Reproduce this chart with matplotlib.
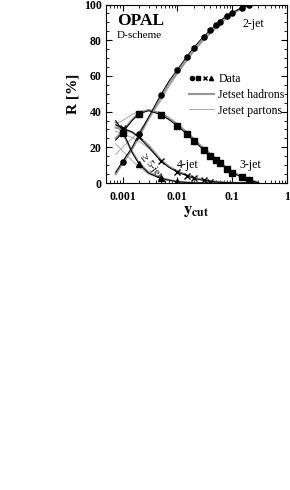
import matplotlib
matplotlib.use("Agg")
import matplotlib.pyplot as plt
from matplotlib.lines import Line2D
from matplotlib.legend_handler import HandlerTuple
from matplotlib.ticker import LogLocator, MultipleLocator, NullFormatter

plt.rcParams['font.family'] = ['Liberation Serif', 'DejaVu Serif']
plt.rcParams['mathtext.fontset'] = 'stix'

# data points (OPAL, D-scheme)
y2 = [0.001, 0.002, 0.005, 0.01, 0.015, 0.02, 0.03, 0.04, 0.05, 0.06, 0.08, 0.1, 0.15, 0.2]
r2 = [11.9, 27.4, 49.5, 63.3, 70.8, 75.8, 82.0, 85.7, 88.5, 90.4, 93.6, 95.4, 98.0, 100.0]
y3 = [0.001, 0.002, 0.005, 0.01, 0.015, 0.02, 0.03, 0.04, 0.05, 0.06, 0.08, 0.1, 0.15, 0.2]
r3 = [28.2, 38.8, 38.3, 32.0, 27.3, 23.7, 18.5, 15.3, 12.9, 11.0, 7.7, 5.8, 3.2, 1.5]
y4 = [0.001, 0.002, 0.005, 0.01, 0.015, 0.02, 0.03, 0.04]
r4 = [31.0, 25.6, 12.3, 6.1, 4.1, 2.6, 1.5, 0.8]
y5 = [0.001, 0.002, 0.005, 0.01]
r5 = [29.5, 10.6, 2.6, 0.7]

# curves
cx = [0.00075, 0.001, 0.0015, 0.002, 0.003, 0.005, 0.007, 0.01, 0.015, 0.02,
      0.03, 0.05, 0.07, 0.1, 0.15, 0.2, 0.3]
fit2 = [6, 12, 20, 27.4, 37, 49.5, 57, 63.5, 71, 76, 82, 88.5, 92.5, 95.5, 98.3, 99.6, 100]
fit3 = [24, 28.2, 35, 38.8, 40.5, 38.3, 35.5, 32, 27.3, 23.7, 18.5, 12.9, 9.3, 5.8, 3.2, 1.5, 0.3]
fit4 = [32.5, 31, 28.5, 25.6, 20, 12.3, 8.8, 6.1, 4.1, 2.6, 1.5, 0.6, 0.3, 0.1, 0, 0, 0]
fit5 = [35, 29.5, 17, 10.6, 5.5, 2.6, 1.6, 0.7, 0.3, 0.1, 0, 0, 0, 0, 0, 0, 0]

had2 = [5, 11, 19, 26, 36, 48, 55.5, 62, 69.5, 74.5, 80.5, 87, 91.5, 94.8, 98, 99.5, 100]
had3 = [25, 29, 35.5, 39.2, 41, 39, 36.2, 32.8, 28.2, 24.5, 19.3, 13.6, 9.8, 6.3, 3.5, 1.7, 0.4]
had4 = [31, 30, 28.5, 26, 21, 13, 9.3, 6.6, 4.5, 3, 1.7, 0.7, 0.35, 0.15, 0, 0, 0]
had5 = [34, 28, 17.5, 11.2, 6, 2.9, 1.7, 0.8, 0.35, 0.15, 0, 0, 0, 0, 0, 0, 0]

par2 = [16, 20, 25, 29, 36, 46, 54, 61, 68.5, 73.5, 80, 86.5, 91, 94.5, 97.8, 99.4, 100]
par3 = [33, 35, 38.5, 40, 41, 39.5, 36.8, 33.3, 28.7, 25, 19.8, 14, 10.2, 6.6, 3.7, 1.9, 0.5]
par4 = [29, 27.5, 25.5, 23.5, 19.5, 12.5, 9, 6.5, 4.5, 3, 1.7, 0.7, 0.35, 0.15, 0, 0, 0]
par5 = [22, 18, 12.5, 9, 5, 2.5, 1.5, 0.7, 0.3, 0.1, 0, 0, 0, 0, 0, 0, 0]

fig = plt.figure(figsize=(2.9, 4.9), dpi=100)
ax = fig.add_axes([0.3655, 0.6265, 0.6242, 0.3643])

for p in [par2, par3, par4, par5]:
    ax.plot(cx, p, color='#a8a8a8', lw=0.7, zorder=2)
for h in [had2, had3, had4, had5]:
    ax.plot(cx, h, color='#959595', lw=1.5, zorder=2)
for f in [fit2, fit3, fit4, fit5]:
    ax.plot(cx, f, color='black', lw=0.7, zorder=3)

ax.plot(y2, r2, 'o', color='black', ms=3.7, zorder=4)
ax.plot(y3, r3, 's', color='black', ms=3.7, zorder=4)
ax.plot(y4, r4, 'x', color='black', ms=3.7, mew=1.0, zorder=4)
ax.plot(y5, r5, '^', color='black', ms=3.7, zorder=4)

ax.set_xscale('log')
ax.set_xlim(0.0005, 1)
ax.set_ylim(0, 100)
ax.xaxis.set_minor_locator(LogLocator(base=10, subs=range(2, 10), numticks=20))
ax.xaxis.set_minor_formatter(NullFormatter())
ax.set_xticks([0.001, 0.01, 0.1, 1])
ax.set_xticklabels(['0.001', '0.01', '0.1', '1'])
ax.yaxis.set_major_locator(MultipleLocator(20))
ax.yaxis.set_minor_locator(MultipleLocator(5))
ax.tick_params(which='both', direction='in', top=True, right=True)
ax.tick_params(which='major', length=4, width=0.8)
ax.tick_params(which='minor', length=2, width=0.6)
ax.tick_params(axis='x', pad=6)
ax.tick_params(axis='y', pad=3)
for lab in ax.get_xticklabels() + ax.get_yticklabels():
    lab.set_fontweight('bold')
    lab.set_fontsize(8.5)
for s in ax.spines.values():
    s.set_linewidth(0.8)

ax.set_ylabel('R [%]', fontsize=11, fontweight='bold', labelpad=3)
ax.set_xlabel(r'$\mathbf{y}_{\mathbf{cut}}$', fontsize=12, labelpad=0)

ax.text(0.06, 0.95, 'OPAL', transform=ax.transAxes, fontsize=12.5,
        fontweight='bold', va='top')
ax.text(0.06, 0.85, 'D-scheme', transform=ax.transAxes, fontsize=8, va='top')
ax.text(0.155, 89, '2-jet', fontsize=8.5, va='center')
ax.text(0.0098, 10, '4-jet', fontsize=8.5, va='center')
ax.text(0.137, 10, '3-jet', fontsize=8.5, va='center')
ax.text(0.0033, 10, r'$\geq$5-jet', fontsize=7.5, rotation=-52, ha='center', va='center')

handles = [
    (Line2D([], [], marker='o', ls='none', color='black', ms=3),
     Line2D([], [], marker='s', ls='none', color='black', ms=3),
     Line2D([], [], marker='x', ls='none', color='black', ms=3),
     Line2D([], [], marker='^', ls='none', color='black', ms=3)),
    Line2D([], [], color='#959595', lw=1.5),
    Line2D([], [], color='#a8a8a8', lw=0.7),
]
ax.legend(handles, ['Data', 'Jetset hadrons', 'Jetset partons'],
          handler_map={tuple: HandlerTuple(ndivide=None, pad=0.1)},
          loc='center left', bbox_to_anchor=(0.46, 0.493), frameon=False,
          fontsize=8.5, handlelength=2.1, handletextpad=0.35, labelspacing=0.3,
          borderpad=0, borderaxespad=0)

fig.savefig('out.png', dpi=100)
